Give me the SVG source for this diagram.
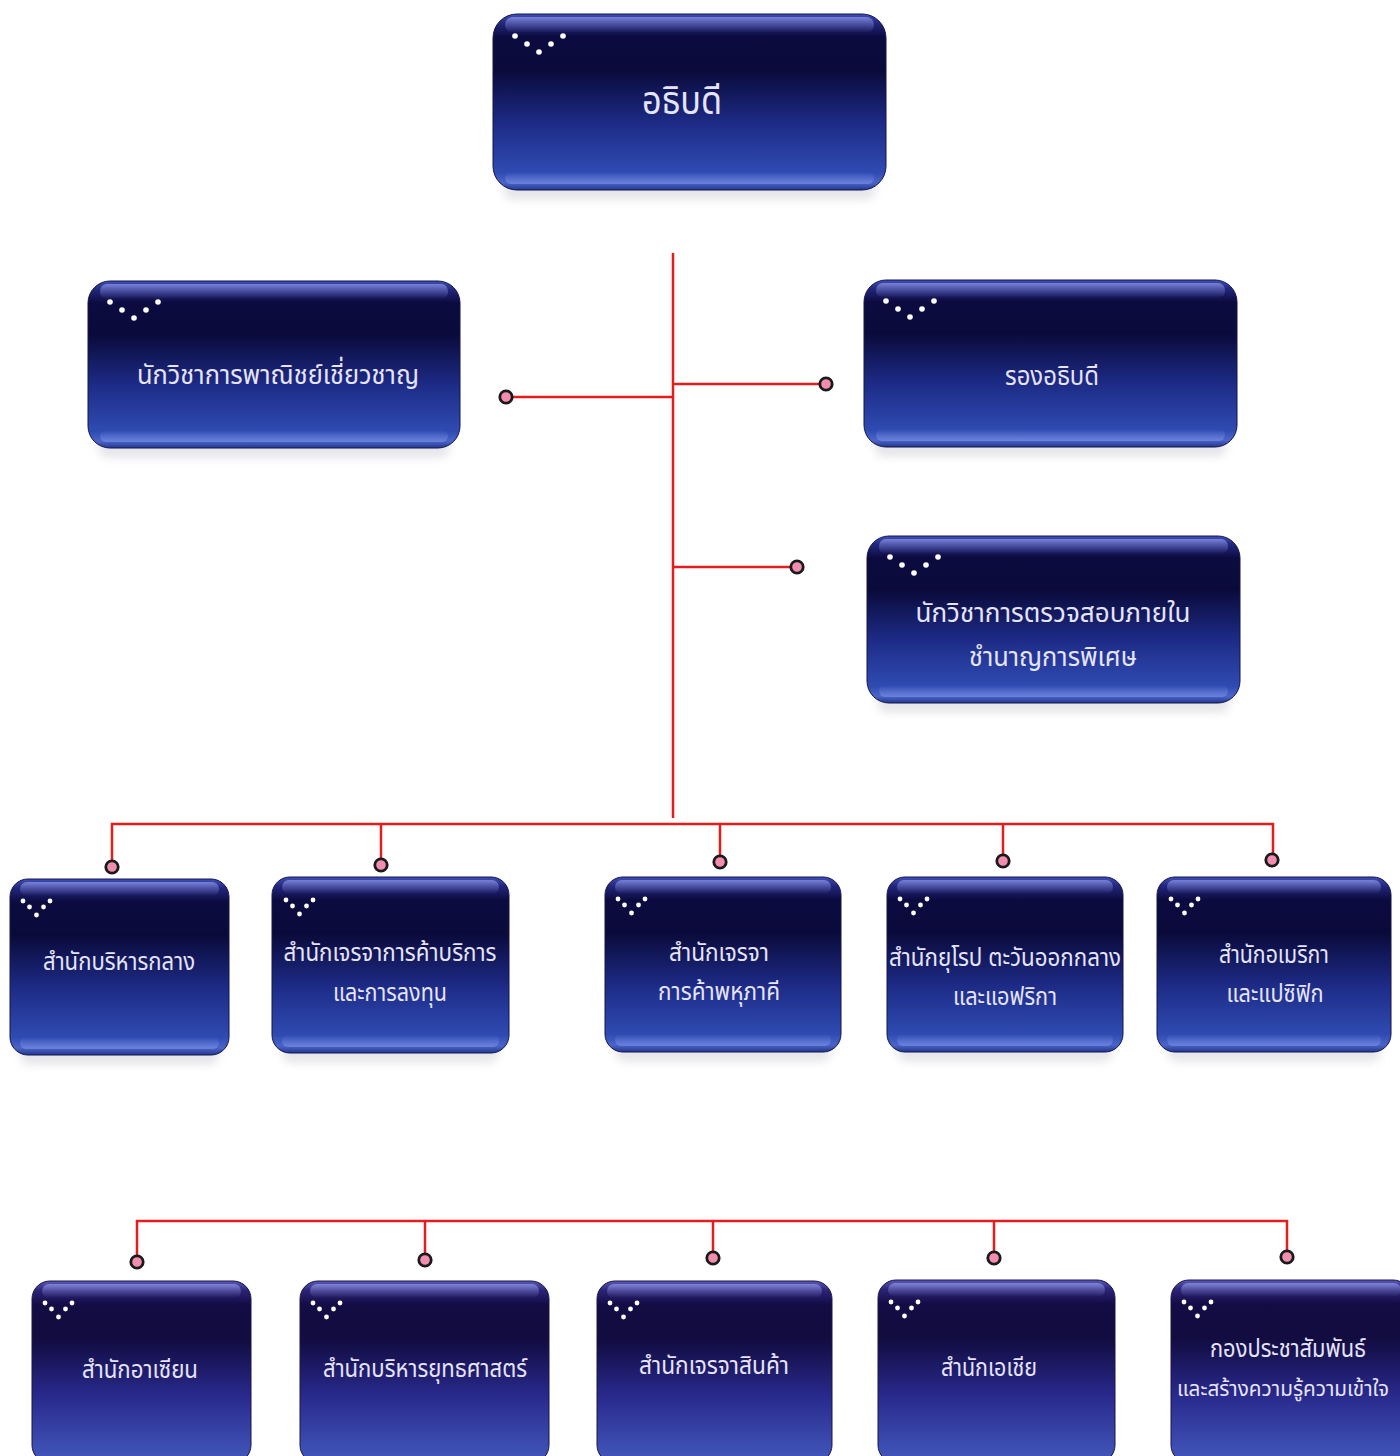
<svg xmlns="http://www.w3.org/2000/svg" xmlns:xlink="http://www.w3.org/1999/xlink" width="1400" height="1456" viewBox="0 0 1400 1456">
<style>
.box{fill:url(#boxGrad);stroke:#15154a;stroke-width:1}
.box2{fill:url(#boxGrad2);stroke:#1a1448;stroke-width:1}
.gloss{fill:url(#glossGrad)}
.rim{fill:url(#rimGrad)}
.shadow{fill:#c9c9d2;opacity:.45;filter:url(#blur)}
.lbl{font-family:"Noto Sans Thai","Noto Sans Thai UI","Noto Sans","DejaVu Sans",sans-serif;fill:#e6e4fa;text-anchor:middle}
.big{font-size:40px}
.mid{font-size:27px}
.sm{font-size:24px}
.conn{stroke:#e41c1c;stroke-width:2.5;fill:none}
.pin{fill:#f28db0;stroke:#1a1a1a;stroke-width:2.8}
.dot{fill:#ffffff}
</style>
<defs>
<linearGradient id="boxGrad" x1="0" y1="0" x2="0" y2="1">
<stop offset="0" stop-color="#4050b8"/>
<stop offset="0.05" stop-color="#23277e"/>
<stop offset="0.13" stop-color="#0c0b40"/>
<stop offset="0.32" stop-color="#0a0a3a"/>
<stop offset="0.62" stop-color="#1d2b86"/>
<stop offset="0.9" stop-color="#2f4bb2"/>
<stop offset="0.96" stop-color="#4b64c8"/>
<stop offset="1" stop-color="#223891"/>
</linearGradient>
<linearGradient id="boxGrad2" x1="0" y1="0" x2="0" y2="1">
<stop offset="0" stop-color="#5a5ab8"/>
<stop offset="0.05" stop-color="#2c2478"/>
<stop offset="0.13" stop-color="#140c44"/>
<stop offset="0.32" stop-color="#120c40"/>
<stop offset="0.62" stop-color="#28288a"/>
<stop offset="0.9" stop-color="#3c4cb0"/>
<stop offset="1" stop-color="#4458bc"/>
</linearGradient>
<linearGradient id="glossGrad" x1="0" y1="0" x2="0" y2="1">
<stop offset="0" stop-color="#aab4ff" stop-opacity="0.55"/>
<stop offset="1" stop-color="#aab4ff" stop-opacity="0"/>
</linearGradient>
<linearGradient id="rimGrad" x1="0" y1="0" x2="0" y2="1">
<stop offset="0" stop-color="#8aa0f0" stop-opacity="0"/>
<stop offset="1" stop-color="#8aa0f0" stop-opacity="0.5"/>
</linearGradient>
<filter id="blur" x="-10%" y="-50%" width="120%" height="200%">
<feGaussianBlur stdDeviation="4"/>
</filter>
<g id="dotsL">
<circle class="dot" cx="0" cy="0" r="2.8"/>
<circle class="dot" cx="12" cy="8" r="2.8"/>
<circle class="dot" cx="24" cy="16" r="2.8"/>
<circle class="dot" cx="36" cy="8" r="2.8"/>
<circle class="dot" cx="48" cy="0" r="2.8"/>
</g>
<g id="dotsS">
<circle class="dot" cx="0" cy="0" r="2.4"/>
<circle class="dot" cx="6.5" cy="6" r="2.4"/>
<circle class="dot" cx="13.5" cy="14" r="2.4"/>
<circle class="dot" cx="20.5" cy="6" r="2.4"/>
<circle class="dot" cx="27" cy="0" r="2.4"/>
</g>
</defs>
<rect width="1400" height="1456" fill="#ffffff"/>

<g id="connectors">
<path class="conn" d="M673 253 V818"/>
<path class="conn" d="M506 397 H673"/>
<path class="conn" d="M673 384 H826"/>
<path class="conn" d="M673 567 H797"/>
<path class="conn" d="M112 867 V824 H1273 V860"/>
<path class="conn" d="M381 824 V865"/>
<path class="conn" d="M720 824 V862"/>
<path class="conn" d="M1003 824 V861"/>
<path class="conn" d="M137 1262 V1221 H1287 V1257"/>
<path class="conn" d="M425 1221 V1260"/>
<path class="conn" d="M713 1221 V1258"/>
<path class="conn" d="M994 1221 V1258"/>
<circle class="pin" cx="506" cy="397" r="6.2"/>
<circle class="pin" cx="826" cy="384" r="6.2"/>
<circle class="pin" cx="797" cy="567" r="6.2"/>
<circle class="pin" cx="112" cy="867" r="6.2"/>
<circle class="pin" cx="381" cy="865" r="6.2"/>
<circle class="pin" cx="720" cy="862" r="6.2"/>
<circle class="pin" cx="1003" cy="861" r="6.2"/>
<circle class="pin" cx="1272" cy="860" r="6.2"/>
<circle class="pin" cx="137" cy="1262" r="6.2"/>
<circle class="pin" cx="425" cy="1260" r="6.2"/>
<circle class="pin" cx="713" cy="1258" r="6.2"/>
<circle class="pin" cx="994" cy="1258" r="6.2"/>
<circle class="pin" cx="1287" cy="1257" r="6.2"/>
</g>

<g id="n-director">
<rect class="shadow" x="503" y="178" width="373" height="22" rx="10"/>
<rect class="box" x="493" y="14" width="393" height="176" rx="24"/>
<rect class="gloss" x="505" y="17" width="369" height="16" rx="8"/>
<rect class="rim" x="505" y="172" width="369" height="12" rx="6"/>
<use xlink:href="#dotsL" href="#dotsL" x="515" y="36"/>
<text class="lbl big" x="682" y="114" textLength="80" lengthAdjust="spacingAndGlyphs">อธิบดี</text>
</g>

<g id="n-expert">
<rect class="shadow" x="98" y="436" width="352" height="22" rx="10"/>
<rect class="box" x="88" y="281" width="372" height="167" rx="22"/>
<rect class="gloss" x="100" y="284" width="348" height="15" rx="7"/>
<rect class="rim" x="100" y="430" width="348" height="12" rx="6"/>
<use xlink:href="#dotsL" href="#dotsL" x="110" y="302"/>
<text class="lbl mid" x="278" y="384" textLength="282" lengthAdjust="spacingAndGlyphs">นักวิชาการพาณิชย์เชี่ยวชาญ</text>
</g>

<g id="n-deputy">
<rect class="shadow" x="874" y="435" width="353" height="22" rx="10"/>
<rect class="box" x="864" y="280" width="373" height="167" rx="22"/>
<rect class="gloss" x="876" y="283" width="349" height="15" rx="7"/>
<rect class="rim" x="876" y="429" width="349" height="12" rx="6"/>
<use xlink:href="#dotsL" href="#dotsL" x="886" y="301"/>
<text class="lbl mid" x="1052" y="385" textLength="94" lengthAdjust="spacingAndGlyphs">รองอธิบดี</text>
</g>

<g id="n-audit">
<rect class="shadow" x="877" y="691" width="353" height="22" rx="10"/>
<rect class="box" x="867" y="536" width="373" height="167" rx="22"/>
<rect class="gloss" x="879" y="539" width="349" height="15" rx="7"/>
<rect class="rim" x="879" y="685" width="349" height="12" rx="6"/>
<use xlink:href="#dotsL" href="#dotsL" x="890" y="557"/>
<text class="lbl mid" x="1053" y="622" textLength="275" lengthAdjust="spacingAndGlyphs">นักวิชาการตรวจสอบภายใน</text>
<text class="lbl mid" x="1053" y="666" textLength="168" lengthAdjust="spacingAndGlyphs">ชำนาญการพิเศษ</text>
</g>

<g id="n-central">
<rect class="shadow" x="20" y="1043" width="199" height="22" rx="10"/>
<rect class="box" x="10" y="879" width="219" height="176" rx="18"/>
<rect class="gloss" x="20" y="882" width="199" height="14" rx="7"/>
<rect class="rim" x="20" y="1037" width="199" height="12" rx="6"/>
<use xlink:href="#dotsS" href="#dotsS" x="23" y="901"/>
<text class="lbl sm" x="119" y="970" textLength="152" lengthAdjust="spacingAndGlyphs">สำนักบริหารกลาง</text>
</g>

<g id="n-services">
<rect class="shadow" x="282" y="1041" width="217" height="22" rx="10"/>
<rect class="box" x="272" y="877" width="237" height="176" rx="18"/>
<rect class="gloss" x="282" y="880" width="217" height="14" rx="7"/>
<rect class="rim" x="282" y="1035" width="217" height="12" rx="6"/>
<use xlink:href="#dotsS" href="#dotsS" x="286" y="900"/>
<text class="lbl sm" x="390" y="961" textLength="213" lengthAdjust="spacingAndGlyphs">สำนักเจรจาการค้าบริการ</text>
<text class="lbl sm" x="390" y="1001" textLength="114" lengthAdjust="spacingAndGlyphs">และการลงทุน</text>
</g>

<g id="n-multilateral">
<rect class="shadow" x="615" y="1040" width="216" height="22" rx="10"/>
<rect class="box" x="605" y="877" width="236" height="175" rx="18"/>
<rect class="gloss" x="615" y="880" width="216" height="14" rx="7"/>
<rect class="rim" x="615" y="1034" width="216" height="12" rx="6"/>
<use xlink:href="#dotsS" href="#dotsS" x="618" y="899"/>
<text class="lbl sm" x="719" y="961" textLength="100" lengthAdjust="spacingAndGlyphs">สำนักเจรจา</text>
<text class="lbl sm" x="719" y="1000" textLength="122" lengthAdjust="spacingAndGlyphs">การค้าพหุภาคี</text>
</g>

<g id="n-europe">
<rect class="shadow" x="897" y="1040" width="216" height="22" rx="10"/>
<rect class="box" x="887" y="877" width="236" height="175" rx="18"/>
<rect class="gloss" x="897" y="880" width="216" height="14" rx="7"/>
<rect class="rim" x="897" y="1034" width="216" height="12" rx="6"/>
<use xlink:href="#dotsS" href="#dotsS" x="900" y="899"/>
<text class="lbl sm" x="1005" y="966" textLength="232" lengthAdjust="spacingAndGlyphs">สำนักยุโรป ตะวันออกกลาง</text>
<text class="lbl sm" x="1005" y="1005" textLength="104" lengthAdjust="spacingAndGlyphs">และแอฟริกา</text>
</g>

<g id="n-america">
<rect class="shadow" x="1167" y="1040" width="214" height="22" rx="10"/>
<rect class="box" x="1157" y="877" width="234" height="175" rx="18"/>
<rect class="gloss" x="1167" y="880" width="214" height="14" rx="7"/>
<rect class="rim" x="1167" y="1034" width="214" height="12" rx="6"/>
<use xlink:href="#dotsS" href="#dotsS" x="1171" y="899"/>
<text class="lbl sm" x="1274" y="963" textLength="110" lengthAdjust="spacingAndGlyphs">สำนักอเมริกา</text>
<text class="lbl sm" x="1275" y="1002" textLength="97" lengthAdjust="spacingAndGlyphs">และแปซิฟิก</text>
</g>

<g id="n-asean">
<rect class="box2" x="32" y="1281" width="219" height="182" rx="18"/>
<rect class="gloss" x="42" y="1284" width="199" height="14" rx="7"/>
<use xlink:href="#dotsS" href="#dotsS" x="45" y="1303"/>
<text class="lbl sm" x="140" y="1378" textLength="116" lengthAdjust="spacingAndGlyphs">สำนักอาเซียน</text>
</g>

<g id="n-strategy">
<rect class="box2" x="300" y="1281" width="249" height="182" rx="18"/>
<rect class="gloss" x="310" y="1284" width="229" height="14" rx="7"/>
<use xlink:href="#dotsS" href="#dotsS" x="313" y="1303"/>
<text class="lbl sm" x="425" y="1377" textLength="204" lengthAdjust="spacingAndGlyphs">สำนักบริหารยุทธศาสตร์</text>
</g>

<g id="n-goods">
<rect class="box2" x="597" y="1281" width="235" height="182" rx="18"/>
<rect class="gloss" x="607" y="1284" width="215" height="14" rx="7"/>
<use xlink:href="#dotsS" href="#dotsS" x="610" y="1303"/>
<text class="lbl sm" x="714" y="1374" textLength="150" lengthAdjust="spacingAndGlyphs">สำนักเจรจาสินค้า</text>
</g>

<g id="n-asia">
<rect class="box2" x="878" y="1280" width="237" height="183" rx="18"/>
<rect class="gloss" x="888" y="1283" width="217" height="14" rx="7"/>
<use xlink:href="#dotsS" href="#dotsS" x="891" y="1302"/>
<text class="lbl sm" x="989" y="1376" textLength="96" lengthAdjust="spacingAndGlyphs">สำนักเอเชีย</text>
</g>

<g id="n-pr">
<rect class="box2" x="1171" y="1280" width="240" height="183" rx="18"/>
<rect class="gloss" x="1181" y="1283" width="220" height="14" rx="7"/>
<use xlink:href="#dotsS" href="#dotsS" x="1184" y="1302"/>
<text class="lbl sm" x="1288" y="1357" textLength="156" lengthAdjust="spacingAndGlyphs">กองประชาสัมพันธ์</text>
<text class="lbl" style="font-size:21px" x="1283" y="1396" textLength="212" lengthAdjust="spacingAndGlyphs">และสร้างความรู้ความเข้าใจ</text>
</g>
</svg>
